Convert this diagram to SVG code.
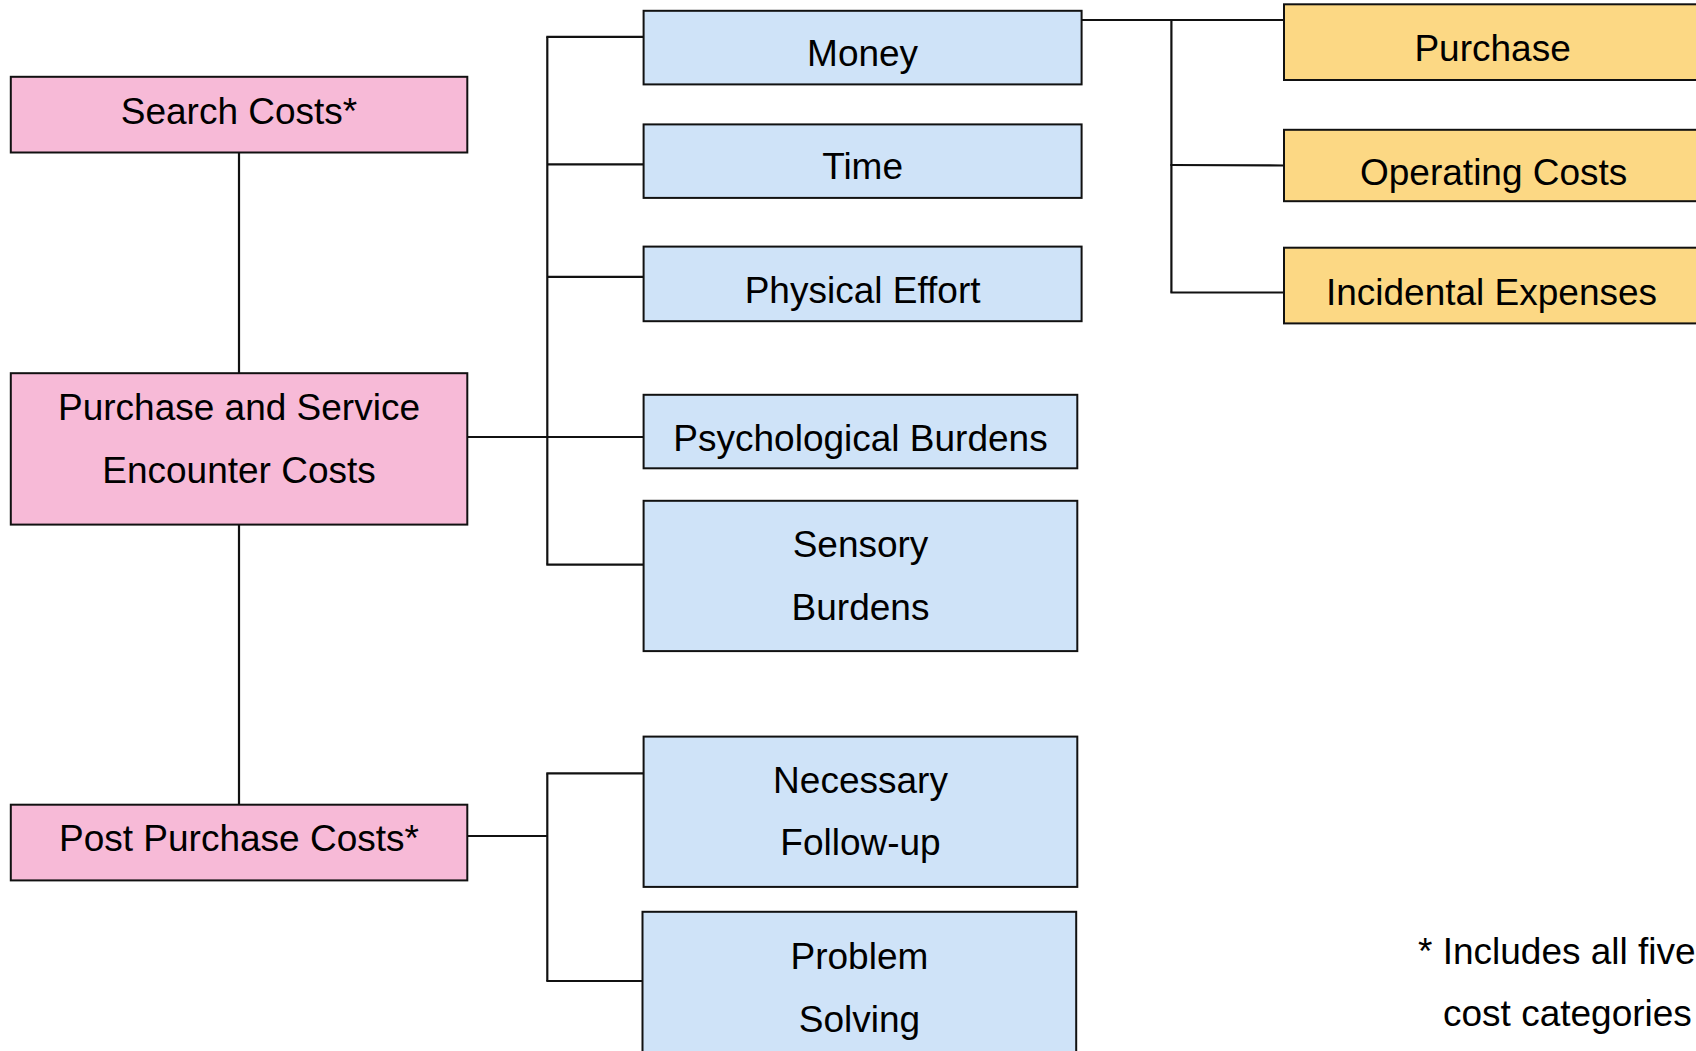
<svg xmlns="http://www.w3.org/2000/svg" width="1696" height="1051" viewBox="0 0 1696 1051">
<style>
  .box { stroke: #111; stroke-width: 2; }
  .pink { fill: #F7BAD7; }
  .blue { fill: #CFE3F8; }
  .orange { fill: #FCD884; }
  .t { font-family: "Liberation Sans", Arial, sans-serif; font-size: 37px; fill: #000; text-anchor: middle; }
  .fn { font-family: "Liberation Sans", Arial, sans-serif; font-size: 37px; fill: #000; }
  .c { stroke: #111; stroke-width: 2.2; fill: none; }
</style>
<rect width="1696" height="1051" fill="#fff"/>
<g id="connectors">
  <line class="c" x1="239" y1="152.5" x2="239" y2="373"/>
  <line class="c" x1="239" y1="524.6" x2="239" y2="804.7"/>
  <line class="c" x1="547.3" y1="36.8" x2="547.3" y2="564.6"/>
  <line class="c" x1="546.3" y1="36.8" x2="643.6" y2="36.8"/>
  <line class="c" x1="547.3" y1="164.4" x2="643.6" y2="164.4"/>
  <line class="c" x1="547.3" y1="276.9" x2="643.6" y2="276.9"/>
  <line class="c" x1="467.3" y1="437" x2="643.6" y2="437"/>
  <line class="c" x1="546.3" y1="564.6" x2="643.6" y2="564.6"/>
  <line class="c" x1="547.3" y1="773.4" x2="547.3" y2="981"/>
  <line class="c" x1="546.3" y1="773.4" x2="643.6" y2="773.4"/>
  <line class="c" x1="467.3" y1="836" x2="547.3" y2="836"/>
  <line class="c" x1="546.3" y1="981" x2="643" y2="981"/>
  <line class="c" x1="1077" y1="20" x2="1284" y2="20"/>
  <line class="c" x1="1171.4" y1="20" x2="1171.4" y2="292.5"/>
  <line class="c" x1="1170.4" y1="165" x2="1284" y2="165.5"/>
  <line class="c" x1="1170.4" y1="292.5" x2="1284" y2="292.5"/>
</g>
<g id="search-costs">
  <rect class="box pink" x="10.8" y="76.8" width="456.5" height="75.7"/>
  <text class="t" x="239" y="123.5">Search Costs*</text>
</g>
<g id="purchase-service">
  <rect class="box pink" x="10.8" y="373.2" width="456.5" height="151.4"/>
  <text class="t" x="239" y="420">Purchase and Service</text>
  <text class="t" x="239" y="482.8">Encounter Costs</text>
</g>
<g id="post-purchase">
  <rect class="box pink" x="10.8" y="804.7" width="456.5" height="75.7"/>
  <text class="t" x="239" y="850.5">Post Purchase Costs*</text>
</g>
<g id="money">
  <rect class="box blue" x="643.6" y="10.8" width="438" height="73.6"/>
  <text class="t" x="862.6" y="65.5">Money</text>
</g>
<g id="time">
  <rect class="box blue" x="643.6" y="124.4" width="438" height="73.5"/>
  <text class="t" x="862.6" y="179">Time</text>
</g>
<g id="physical-effort">
  <rect class="box blue" x="643.6" y="246.6" width="438" height="74.6"/>
  <text class="t" x="862.6" y="302.5">Physical Effort</text>
</g>
<g id="psychological-burdens">
  <rect class="box blue" x="643.6" y="394.8" width="433.7" height="73.5"/>
  <text class="t" x="860.5" y="450.5">Psychological Burdens</text>
</g>
<g id="sensory-burdens">
  <rect class="box blue" x="643.6" y="500.8" width="433.7" height="150.3"/>
  <text class="t" x="860.5" y="556.5">Sensory</text>
  <text class="t" x="860.5" y="619.5">Burdens</text>
</g>
<g id="necessary-follow-up">
  <rect class="box blue" x="643.6" y="736.6" width="433.7" height="150.3"/>
  <text class="t" x="860.5" y="792.5">Necessary</text>
  <text class="t" x="860.5" y="855">Follow-up</text>
</g>
<g id="problem-solving">
  <rect class="box blue" x="642.5" y="911.8" width="433.7" height="160"/>
  <text class="t" x="859.4" y="968.5">Problem</text>
  <text class="t" x="859.4" y="1031.5">Solving</text>
</g>
<g id="purchase">
  <rect class="box orange" x="1284" y="4.3" width="430" height="75.7"/>
  <text class="t" x="1492.6" y="61">Purchase</text>
</g>
<g id="operating-costs">
  <rect class="box orange" x="1284" y="129.8" width="430" height="71.4"/>
  <text class="t" x="1493.7" y="184.5">Operating Costs</text>
</g>
<g id="incidental-expenses">
  <rect class="box orange" x="1284" y="247.7" width="430" height="75.7"/>
  <text class="t" x="1491.5" y="304.5">Incidental Expenses</text>
</g>
<g id="footnote">
  <text class="fn" x="1418" y="963.5">* Includes all five</text>
  <text class="fn" x="1443" y="1026">cost categories</text>
</g>
</svg>
